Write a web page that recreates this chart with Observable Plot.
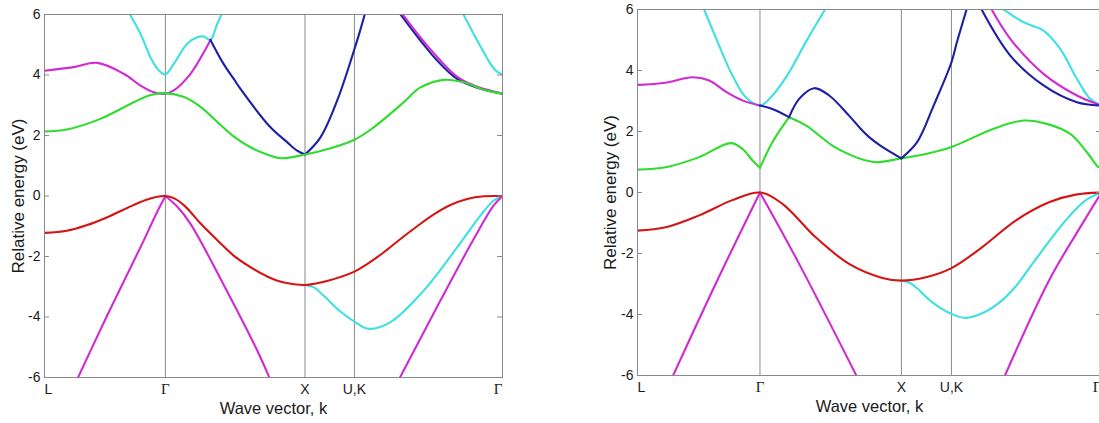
<!DOCTYPE html>
<html>
<head>
<meta charset="utf-8">
<script src="https://cdn.jsdelivr.net/npm/d3@7"></script>
<script src="https://cdn.jsdelivr.net/npm/@observablehq/plot@0.6"></script>
<style>
  html, body { margin: 0; padding: 0; background: #fff; overflow: hidden; }
  #wrap { display: flex; flex-wrap: nowrap; width: 1120px; }
  #wrap svg { flex: none; }
</style>
</head>
<body>
<div id="wrap"></div>
<script>
// ---- shared axis values ----
const kPoints = [0, 0.866, 1.866, 2.220, 3.281];
const kLabels = ["L", "Γ", "X", "U,K", "Γ"];
const yTicks = [-6, -4, -2, 0, 2, 4, 6];
const yDomain = [-6, 6];
const xTitle = "Wave vector, k";
const yTitle = "Relative energy (eV)";

const colors = {red: "#d41515", magenta: "#d22ad2", cyan: "#3fe0e0", green: "#2fdc2f", blue: "#1e1ea6"};

// ---- left panel bands [k, E] ----
const aRed = [[0,-1.22],[0.16,-1.15],[0.30,-0.97],[0.45,-0.7],[0.6,-0.38],[0.72,-0.14],[0.8,-0.03],[0.866,0],[0.93,-0.08],[1.0,-0.31],[1.046,-0.53],[1.12,-0.92],[1.24,-1.47],[1.355,-1.97],[1.475,-2.35],[1.595,-2.66],[1.715,-2.86],[1.866,-2.94],[2.03,-2.8],[2.22,-2.5],[2.311,-2.25],[2.431,-1.86],[2.55,-1.42],[2.67,-1.0],[2.789,-0.61],[2.908,-0.3],[3.028,-0.1],[3.147,-0.01],[3.281,0]];
const aMagLo1 = [[0.22,-6.2],[0.449,-3.95],[0.688,-1.69],[0.807,-0.53],[0.866,0]];
const aMagLo2 = [[0.866,0],[0.95,-0.35],[1.046,-0.92],[1.285,-2.95],[1.523,-5.1],[1.62,-6.1]];
const aMagLo3 = [[2.535,-6.1],[2.837,-3.45],[3.075,-1.42],[3.218,-0.31],[3.281,0]];
const aCyanLo = [[1.866,-2.94],[1.93,-3.02],[2.001,-3.3],[2.12,-3.82],[2.22,-4.15],[2.323,-4.39],[2.479,-4.17],[2.718,-3.12],[2.957,-1.69],[3.124,-0.64],[3.218,-0.15],[3.281,0]];
const aGreen = [[0,2.13],[0.16,2.2],[0.40,2.55],[0.64,3.1],[0.76,3.34],[0.866,3.40],[1.0,3.27],[1.12,2.94],[1.24,2.44],[1.355,1.97],[1.475,1.61],[1.595,1.37],[1.69,1.25],[1.866,1.37],[2.037,1.56],[2.22,1.86],[2.335,2.19],[2.574,3.1],[2.69,3.58],[2.86,3.84],[3.004,3.76],[3.147,3.51],[3.281,3.38]];
const aMagUp1 = [[0,4.14],[0.21,4.26],[0.377,4.40],[0.568,4.04],[0.688,3.65],[0.783,3.43],[0.866,3.38],[0.926,3.49],[1.046,4.04],[1.141,4.75],[1.189,5.16]];
const aMagUp2 = [[2.55,6.1],[2.70,5.2],[2.82,4.56],[2.96,3.93],[3.1,3.61],[3.281,3.38]];
const aBlue1 = [[1.189,5.16],[1.285,4.35],[1.356,3.87],[1.404,3.54],[1.619,2.27],[1.738,1.78],[1.81,1.5],[1.866,1.37]];
const aBlue2 = [[1.866,1.37],[1.977,1.94],[2.097,3.16],[2.22,4.85],[2.26,5.45],[2.30,6.1]];
const aBlue3 = [[2.535,6.1],[2.693,5.14],[2.813,4.48],[2.956,3.87],[3.1,3.58],[3.281,3.38]];
const aCyanUp1 = [[0.587,6.2],[0.688,5.36],[0.759,4.59],[0.819,4.15],[0.866,4.02],[0.926,4.37],[1.022,5.03],[1.094,5.25],[1.141,5.27],[1.189,5.16],[1.237,5.69],[1.29,6.2]];
const aCyanUp2 = [[2.99,6.1],[3.1,5.14],[3.195,4.37],[3.24,4.12],[3.281,4.02]];

// ---- right panel bands [k, E] ----
const bRed = [[0,-1.25],[0.2,-1.14],[0.436,-0.75],[0.671,-0.25],[0.866,0],[1.025,-0.37],[1.26,-1.47],[1.496,-2.34],[1.731,-2.8],[1.866,-2.89],[2.04,-2.78],[2.22,-2.48],[2.438,-1.79],[2.674,-0.92],[2.91,-0.32],[3.098,-0.07],[3.281,0]];
const bMagLo1 = [[0.222,-6.3],[0.553,-2.99],[0.866,0]];
const bMagLo2 = [[0.866,0],[1.143,-2.34],[1.58,-6.3]];
const bMagLo3 = [[2.57,-6.3],[2.909,-2.89],[3.145,-1.03],[3.281,0]];
const bCyanLo = [[1.866,-2.89],[1.92,-2.95],[1.967,-3.10],[2.085,-3.6],[2.22,-3.98],[2.32,-4.11],[2.438,-3.96],[2.556,-3.62],[2.674,-3.08],[2.792,-2.34],[3.027,-0.92],[3.168,-0.26],[3.281,0]];
const bGreen1 = [[0,0.75],[0.2,0.83],[0.436,1.16],[0.66,1.62],[0.742,1.43],[0.813,1.05],[0.866,0.81]];
const bGreen2 = [[0.866,0.81],[0.954,1.65],[1.072,2.47]];
const bGreen3 = [[1.072,2.47],[1.19,2.2],[1.378,1.54],[1.496,1.25],[1.614,1.05],[1.694,0.99],[1.866,1.12],[2.047,1.27],[2.22,1.49],[2.518,2.09],[2.73,2.36],[2.895,2.25],[3.06,1.92],[3.178,1.32],[3.26,0.83],[3.281,0.81]];
const bMagUp1 = [[0,3.53],[0.2,3.6],[0.389,3.78],[0.507,3.67],[0.624,3.31],[0.742,3.02],[0.866,2.85]];
const bMagUp2 = [[2.48,6.2],[2.636,5.04],[2.871,3.89],[3.107,3.18],[3.281,2.85]];
const bCyanUp1 = [[0.462,6.1],[0.577,4.82],[0.671,3.84],[0.766,3.12],[0.866,2.85],[0.954,3.18],[1.072,3.94],[1.19,4.93],[1.339,6.1]];
const bCyanUp2 = [[2.55,6.12],[2.589,6],[2.707,5.64],[2.8,5.45],[2.871,5.31],[2.989,4.71],[3.107,3.73],[3.201,3.07],[3.281,2.85]];
const bBlue1 = [[0.866,2.85],[0.954,2.74],[1.072,2.47]];
const bBlue2 = [[1.072,2.47],[1.143,3.07],[1.249,3.42],[1.355,3.18],[1.496,2.52],[1.576,2.1],[1.642,1.8],[1.717,1.54],[1.866,1.12]];
const bBlue3 = [[1.866,1.12],[1.977,1.65],[2.094,2.85],[2.22,4.27],[2.26,4.95],[2.34,6.2]];
const bBlue4 = [[2.41,6.2],[2.636,4.49],[2.871,3.51],[3.107,2.96],[3.281,2.85]];

const leftBands = [
  [aCyanUp1,"cyan"],[aCyanUp2,"cyan"],[aCyanLo,"cyan"],
  [aMagLo1,"magenta"],[aMagLo2,"magenta"],[aMagLo3,"magenta"],[aMagUp1,"magenta"],
  [aBlue1,"blue"],[aBlue2,"blue"],[aBlue3,"blue"],[aMagUp2,"magenta"],
  [aGreen,"green"],[aRed,"red"]
];
const rightBands = [
  [bCyanUp1,"cyan"],[bCyanUp2,"cyan"],[bCyanLo,"cyan"],
  [bMagLo1,"magenta"],[bMagLo2,"magenta"],[bMagLo3,"magenta"],[bMagUp1,"magenta"],[bMagUp2,"magenta"],
  [bGreen1,"green"],[bGreen2,"green"],[bGreen3,"green"],
  [bBlue1,"blue"],[bBlue2,"blue"],[bBlue3,"blue"],[bBlue4,"blue"],
  [bRed,"red"]
];

const FONT = "'Liberation Sans', Arial, sans-serif";
const TXT = "#1a1a1a";
const GRID = "#8a8a8a";

function panel(bands, o) {
  const plotW = o.width - o.marginLeft - o.marginRight;
  const tickOpts = {frameAnchor: "bottom", dy: 12, lineAnchor: "middle", fontSize: 14, fill: TXT};
  const gammaOpts = {...tickOpts, fontSize: 15, fontFamily: "'Liberation Serif', serif"};
  const marks = [
    Plot.ruleX(kPoints.slice(1, -1), {stroke: GRID, strokeWidth: 1}),
    ...bands.map(([data, c]) => Plot.line(data, {
      x: d => d[0], y: d => d[1], stroke: colors[c], strokeWidth: 2.1,
      curve: "catmull-rom", clip: true
    })),
    Plot.frame({stroke: GRID, strokeWidth: 1}),
    Plot.tickY(yTicks.slice(1, -1), {y: d => d, stroke: GRID, insetRight: plotW - 5}),
    Plot.tickY(yTicks.slice(1, -1), {y: d => d, stroke: GRID, insetLeft: plotW - 5}),
    Plot.axisY({ticks: yTicks, tickSize: 0, tickPadding: 4, fontSize: 14, label: null, tickFormat: d => String(d).replace("−", "-"), fill: TXT}),
    // x tick labels
    Plot.text([0], {...tickOpts, x: d => kPoints[d], text: d => kLabels[d], textAnchor: "start"}),
    Plot.text([1], {...gammaOpts, x: d => kPoints[d], text: d => kLabels[d], textAnchor: "middle"}),
    Plot.text([2, 3], {...tickOpts, x: d => kPoints[d], text: d => kLabels[d], textAnchor: "middle"}),
    Plot.text([4], {...gammaOpts, x: d => kPoints[d], text: d => kLabels[d], textAnchor: "end"}),
    // titles
    Plot.text([xTitle], {text: d => d, frameAnchor: "bottom", dy: o.xLabelDy, lineAnchor: "middle", textAnchor: "middle", fontSize: 16.5, fill: TXT}),
    Plot.text([yTitle], {text: d => d, frameAnchor: "left", dx: o.yLabelDx, rotate: -90, textAnchor: "middle", lineAnchor: "middle", fontSize: 17, fill: TXT})
  ];
  return Plot.plot({
    width: o.width, height: 423,
    marginLeft: o.marginLeft, marginRight: o.marginRight,
    marginTop: o.marginTop, marginBottom: o.marginBottom,
    style: {fontFamily: FONT, background: "#fff", overflow: "visible"},
    x: {domain: [0, kPoints[4]], axis: null},
    y: {domain: yDomain, axis: null},
    marks
  });
}

const wrap = document.getElementById("wrap");
wrap.appendChild(panel(leftBands, {width: 560, marginLeft: 44, marginRight: 58, marginTop: 14, marginBottom: 46, yLabelDx: -26, xLabelDy: 31}));
wrap.appendChild(panel(rightBands, {width: 560, marginLeft: 77, marginRight: 19, marginTop: 9, marginBottom: 48, yLabelDx: -27, xLabelDy: 31}));
</script>
</body>
</html>
